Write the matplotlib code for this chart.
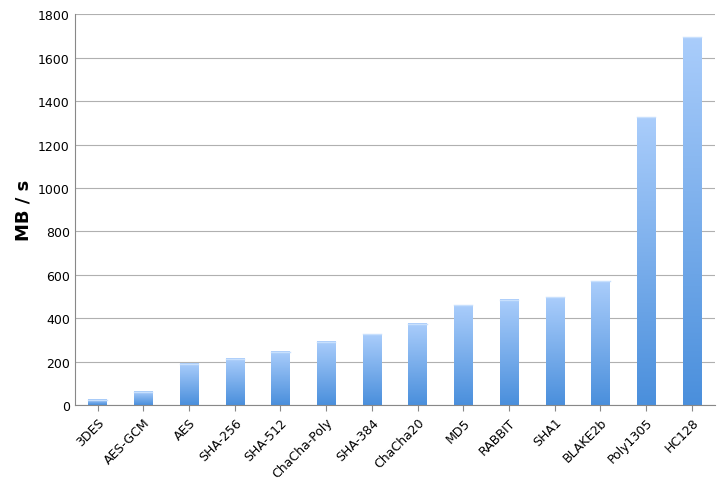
import numpy as np
import matplotlib.pyplot as plt
from matplotlib.colors import LinearSegmentedColormap

ciphers = ["3DES", "AES-GCM", "AES", "SHA-256", "SHA-512", "ChaCha-Poly", "SHA-384",
           "ChaCha20", "MD5", "RABBIT", "SHA1", "BLAKE2b", "Poly1305", "HC128"]
speeds = [25, 60, 190, 212, 245, 292, 325, 375, 460, 485, 497, 570, 1325, 1695]

fig = plt.figure(figsize=(7.19, 4.81), dpi=100)
ax = fig.add_axes([0.104, 0.156, 0.89, 0.812])

cmap = LinearSegmentedColormap.from_list("bar", ["#4a8fdc", "#aacdfb"])
grad = np.linspace(0, 1, 256).reshape(-1, 1)
w = 0.4
for i, v in enumerate(speeds):
    ax.imshow(grad, cmap=cmap, origin="lower", aspect="auto",
              extent=(i - w / 2, i + w / 2, 0, v), zorder=2)
    ax.plot([i - w / 2, i + w / 2], [v, v], color="#c8e0fd", lw=1, zorder=3)

ax.set_xlim(-0.5, len(ciphers) - 0.5)
ax.set_ylim(0, 1800)
ax.set_yticks(range(0, 1801, 200))
ax.set_xticks(range(len(ciphers)))
ax.set_xticklabels(ciphers, rotation=45, ha="right", rotation_mode="anchor", fontsize=9)
ax.tick_params(axis="y", labelsize=9, length=0)
ax.tick_params(axis="x", length=4, color="#888888")
ax.yaxis.grid(True, color="#b0b0b0", lw=0.8, zorder=0)
ax.set_axisbelow(True)
for s in ["top", "right"]:
    ax.spines[s].set_visible(False)
ax.spines["left"].set_color("#888888")
ax.spines["bottom"].set_color("#888888")
ax.set_ylabel("MB / s", fontsize=13, fontweight="bold")

fig.savefig("out.png", dpi=100, facecolor="white")
